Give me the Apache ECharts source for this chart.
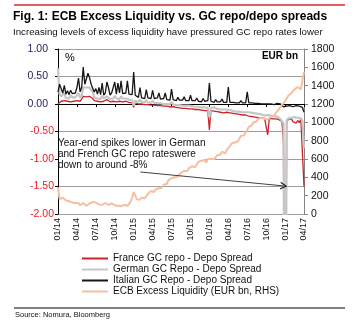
<!DOCTYPE html>
<html>
<head>
<meta charset="utf-8">
<script src="https://cdn.jsdelivr.net/npm/echarts@6/dist/echarts.min.js"></script>
<style>
  html, body { margin: 0; padding: 0; background: #fff; }
  #chart { width: 352px; height: 324px; }
</style>
</head>
<body>
<div id="chart"></div>
<script>
const FONT = '"Liberation Sans", Arial, Helvetica, sans-serif';

// Quarterly tick labels (x in months counted from Jan 2014)
const tickLabels = ['01/14','04/14','07/14','10/14','01/15','04/15','07/15','10/15',
                    '01/16','04/16','07/16','10/16','01/17','04/17'];

// Samples are spaced a quarter of a month apart, one row per quarter
const STEP = 0.25;

// GC repo minus ECB deposit rate, % (left axis)
const france = [
  0.0,0.03,0.05,0.04,0.06,0.03,0.05,0.07,0.04,0.06,0.05,0.07,
  0.06,0.08,0.05,0.09,0.14,0.15,0.13,0.16,0.14,0.15,0.1,0.06,
  0.07,0.05,0.06,0.04,0.07,0.05,0.06,0.08,0.05,0.04,0.06,0.05,
  0.07,0.04,0.06,0.05,0.07,0.04,0.03,0.05,0.06,0.03,0.04,0.02,
  -0.06,0.02,0.01,0.0,0.03,0.0,0.01,-0.01,0.02,-0.01,0.0,-0.02,
  0.01,-0.02,-0.01,-0.03,0.0,-0.03,-0.02,-0.04,-0.01,-0.04,-0.03,-0.05,
  -0.02,-0.05,-0.04,-0.06,-0.04,-0.07,-0.05,-0.08,-0.06,-0.08,-0.07,-0.09,
  -0.06,-0.09,-0.08,-0.1,-0.08,-0.1,-0.09,-0.11,-0.09,-0.12,-0.1,-0.12,
  -0.47,-0.12,-0.11,-0.13,-0.12,-0.14,-0.12,-0.15,-0.13,-0.16,-0.14,-0.15,
  -0.15,-0.16,-0.15,-0.17,-0.16,-0.18,-0.17,-0.19,-0.17,-0.2,-0.18,-0.2,
  -0.2,-0.22,-0.21,-0.23,-0.22,-0.24,-0.22,-0.25,-0.23,-0.25,-0.24,-0.26,
  -0.27,-0.56,-0.26,-0.28,-0.27,-0.29,-0.27,-0.3,-0.28,-0.3,-0.32,-0.7,
  -8,-0.33,-0.28,-0.3,-0.27,-0.32,-0.29,-0.35,-0.3,-0.34,-0.28,-0.3,
  -1.5
];

const germany = [
  0.65,0.18,0.14,0.12,0.2,0.11,0.13,0.1,0.16,0.12,0.1,0.12,
  0.14,0.2,0.11,0.15,0.3,0.28,0.3,0.33,0.3,0.27,0.22,0.12,
  0.14,0.1,0.13,0.09,0.15,0.1,0.11,0.14,0.13,0.09,0.11,0.1,
  0.15,0.1,0.12,0.09,0.14,0.1,0.08,0.1,0.13,0.08,0.09,0.07,
  -0.03,0.06,0.05,0.04,0.08,0.04,0.05,0.03,0.07,0.03,0.04,0.02,
  0.06,0.02,0.03,0.01,0.04,0.01,0.02,0.0,0.03,0.0,0.01,0.0,
  0.04,-0.01,0.0,-0.02,0.01,-0.02,-0.01,-0.03,0.0,-0.03,-0.02,-0.03,
  -0.01,-0.04,-0.03,-0.05,-0.03,-0.05,-0.04,-0.06,-0.04,-0.06,-0.05,-0.07,
  -0.24,-0.07,-0.08,-0.06,-0.08,-0.09,-0.08,-0.1,-0.09,-0.1,-0.11,-0.1,
  -0.12,-0.11,-0.12,-0.13,-0.12,-0.14,-0.13,-0.14,-0.13,-0.15,-0.14,-0.15,
  -0.16,-0.15,-0.17,-0.16,-0.18,-0.17,-0.19,-0.18,-0.2,-0.19,-0.2,-0.21,
  -0.24,-0.2,-0.22,-0.21,-0.23,-0.22,-0.24,-0.23,-0.25,-0.27,-0.3,-0.35,
  -8,-0.3,-0.26,-0.28,-0.25,-0.27,-0.24,-0.26,-0.25,-0.28,-0.26,-0.3,
  -0.8
];

const italy = [
  0.22,0.36,0.28,0.2,0.34,0.18,0.24,0.17,0.25,0.19,0.22,0.2,
  0.3,0.47,0.22,0.3,0.67,0.36,0.34,0.56,0.48,0.36,0.34,0.22,
  0.28,0.18,0.3,0.17,0.38,0.16,0.2,0.4,0.3,0.16,0.2,0.17,
  0.4,0.18,0.38,0.2,0.42,0.19,0.17,0.2,0.42,0.18,0.2,0.17,
  0.58,0.16,0.13,0.12,0.3,0.11,0.12,0.1,0.26,0.11,0.09,0.1,
  0.25,0.1,0.09,0.11,0.2,0.09,0.08,0.1,0.2,0.08,0.09,0.07,
  0.27,0.08,0.07,0.06,0.12,0.07,0.06,0.07,0.13,0.06,0.05,0.06,
  0.16,0.06,0.05,0.06,0.11,0.05,0.06,0.04,0.1,0.05,0.04,0.06,
  0.38,0.05,0.04,0.03,0.08,0.04,0.03,0.04,0.09,0.03,0.04,0.03,
  0.31,0.03,0.02,0.03,0.06,0.02,0.03,0.02,0.06,0.02,0.01,0.02,
  0.22,0.02,0.01,0.02,0.04,0.01,0.0,0.01,0.04,0.0,0.01,0.0,
  0.03,0.0,0.01,0.0,0.02,-0.01,0.0,0.01,0.02,0.0,-0.02,-0.05,
  -0.08,-0.04,-0.05,-0.03,-0.04,-0.05,-0.04,-0.03,-0.05,-0.04,-0.05,-0.06,
  -0.15
];

// ECB excess liquidity, EUR bn (right axis)
const ecb = [
  290,160,170,180,165,150,160,140,135,125,140,120,
  110,120,95,100,120,110,90,100,115,105,130,125,
  125,110,105,115,100,95,120,110,100,105,115,100,
  95,100,90,105,85,95,100,110,90,100,130,180,
  240,200,160,170,155,180,200,170,190,220,210,250,
  260,240,270,250,280,300,290,320,340,330,370,360,
  390,380,400,420,410,430,450,440,470,480,470,500,
  490,520,530,510,540,570,560,580,600,590,560,600,
  580,600,610,600,620,640,630,650,680,670,660,700,
  720,740,770,760,780,800,790,820,850,840,860,880,
  920,950,940,970,1000,990,1010,1040,1030,1050,1070,1040,
  1040,1030,1050,1060,1080,1070,1100,1120,1140,1160,1190,1210,
  1230,1260,1290,1300,1320,1340,1360,1370,1385,1370,1360,1350,
  1550
];

// Annotation arrow, in (month, %) coordinates
const arrowFrom = [13.06, -1.236];
const arrowTo = [35.8, -1.49];

const names = ['France GC repo - Depo Spread', 'German GC Repo - Depo Spread',
               'Italian GC Repo - Depo Spread', 'ECB Excess Liquidity (EUR bn, RHS)'];
const colors = ['#cc2229', '#c6c6c6', '#161616', '#f5bfa1'];

const toPairs = arr => arr.map((v, i) => [i * STEP, v]);

const chart = echarts.init(document.getElementById('chart'), null, { renderer: 'canvas' });

const lineSeries = (idx, data, width, extra) => Object.assign({
  name: names[idx],
  type: 'line',
  data: toPairs(data),
  symbol: 'none',
  showSymbol: false,
  animation: false,
  lineStyle: { color: colors[idx], width: width },
  itemStyle: { color: colors[idx] }
}, extra || {});

chart.setOption({
  animation: false,
  textStyle: { fontFamily: FONT },
  grid: { left: 58, right: 48, top: 49, bottom: 110 },
  xAxis: [
    {
      type: 'value', min: 0, max: 39, interval: 3, position: 'bottom',
      axisLine: { show: false, onZero: false },
      axisTick: { show: false },
      splitLine: { show: false },
      axisLabel: {
        rotate: 90, fontSize: 9, color: '#111', margin: 4, fontFamily: FONT,
        formatter: v => tickLabels[Math.round(v / 3)]
      }
    },
    {
      type: 'value', min: 0, max: 39, interval: 3, position: 'bottom',
      axisLine: { show: true, onZero: true, lineStyle: { color: '#000', width: 1 } },
      axisTick: { show: true, length: 3, lineStyle: { color: '#000' } },
      axisLabel: { show: false },
      splitLine: { show: false }
    }
  ],
  yAxis: [
    {
      type: 'value', min: -2, max: 1, interval: 0.5, position: 'left',
      axisLine: { show: true, onZero: false, lineStyle: { color: '#000', width: 1 } },
      axisTick: { show: true, length: 3, lineStyle: { color: '#000' } },
      splitLine: { show: true, lineStyle: { color: '#9d9d9d', width: 1 } },
      axisLabel: {
        margin: 4,
        formatter: v => (v >= 0 ? '{p|' : '{n|') + v.toFixed(2) + '}',
        rich: {
          p: { color: '#1d1d50', fontSize: 10.5, fontFamily: FONT, padding: [0, 6, 0, 0] },
          n: { color: '#ee1c25', fontSize: 10.5, fontFamily: FONT }
        }
      }
    },
    {
      type: 'value', min: 0, max: 1800, interval: 200, position: 'right',
      axisLine: { show: true, onZero: false, lineStyle: { color: '#858585', width: 1 } },
      axisTick: { show: true, length: 4, lineStyle: { color: '#858585' } },
      splitLine: { show: false },
      axisLabel: { color: '#111', fontSize: 10.5, margin: 7, fontFamily: FONT,
        formatter: v => String(v) }
    }
  ],
  legend: {
    orient: 'vertical', left: 82, top: 253, padding: 0,
    itemWidth: 26, itemHeight: 2, itemGap: 0, icon: 'rect',
    textStyle: { fontSize: 10, lineHeight: 11, color: '#111', fontFamily: FONT },
    data: names
  },
  series: [
    lineSeries(0, france, 1.3),
    lineSeries(1, germany, 2.2),
    lineSeries(2, italy, 1.3, {
      markLine: {
        silent: true,
        animation: false,
        symbol: ['none', 'path://M0,10 L5,0 L10,10 L8.4,10 L5,3.2 L1.6,10 Z'],
        symbolSize: [8, 7],
        label: { show: false },
        lineStyle: { color: '#111', width: 0.8, type: 'solid' },
        data: [[{ coord: arrowFrom }, { coord: arrowTo }]]
      }
    }),
    lineSeries(3, ecb, 2, { yAxisIndex: 1 })
  ],
  graphic: [
    { type: 'line', shape: { x1: 14, y1: 5, x2: 345, y2: 5 }, style: { stroke: '#d42a2a', lineWidth: 1.5 } },
    { type: 'text', x: 13, y: 17, style: { text: 'Fig. 1: ECB Excess Liquidity vs. GC repo/depo spreads',
      font: 'bold 12px ' + FONT, fill: '#000', textVerticalAlign: 'middle' } },
    { type: 'text', x: 13, y: 32, style: { text: 'Increasing levels of excess liquidity have pressured GC repo rates lower',
      font: '9.7px ' + FONT, fill: '#111', textVerticalAlign: 'middle' } },
    { type: 'text', x: 65, y: 58, z: 50, style: { text: '%', font: '11px ' + FONT, fill: '#000', textVerticalAlign: 'middle' } },
    { type: 'text', x: 298, y: 56, z: 50, style: { text: 'EUR bn', font: 'bold 10px ' + FONT, fill: '#000',
      textAlign: 'right', textVerticalAlign: 'middle' } },
    { type: 'rect', z: 1, shape: { x: 59, y: 137, width: 146, height: 33 }, style: { fill: '#fff' } },
    { type: 'text', x: 58, y: 137.5, z: 50, style: {
      text: 'Year-end spikes lower in German\nand French GC repo rateswere\ndown to around -8%',
      font: '10px ' + FONT, lineHeight: 11, fill: '#111' } },
    { type: 'line', shape: { x1: 14, y1: 308, x2: 345, y2: 308 }, style: { stroke: '#000', lineWidth: 1 } },
    { type: 'text', x: 15, y: 315, style: { text: 'Source: Nomura, Bloomberg', font: '7.5px ' + FONT, fill: '#111',
      textVerticalAlign: 'middle' } }
  ]
});
</script>
</body>
</html>
